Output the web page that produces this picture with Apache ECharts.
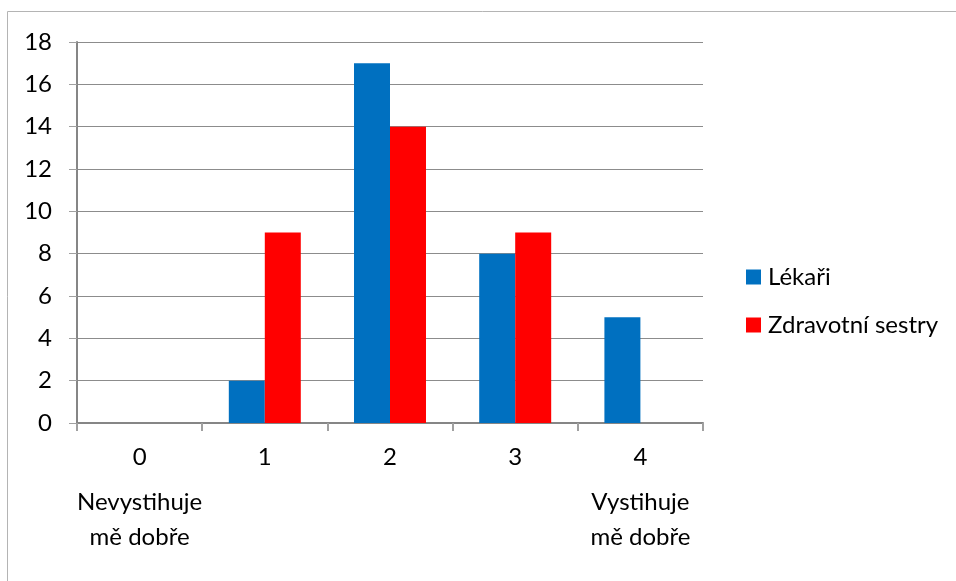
<!DOCTYPE html>
<html>
<head>
<meta charset="utf-8">
<script src="https://cdn.jsdelivr.net/npm/echarts@6/dist/echarts.min.js"></script>
<style>
  html, body { margin: 0; padding: 0; background: #fff; }
  #chart { width: 956px; height: 581px; }
</style>
</head>
<body>
<div id="chart"></div>
<script>
// Rating scale 0–4 and its end-point descriptions
const categories = ['0', '1', '2', '3', '4'];
const scaleNotes = { '0': 'Nevystihuje\nmě dobře', '4': 'Vystihuje\nmě dobře' };

// Number of respondents per rating
const seriesNames = ['Lékaři', 'Zdravotní sestry'];
const doctors = [0, 2, 17, 8, 5];
const nurses = [0, 9, 14, 9, 0];

const yTicks = { min: 0, max: 18, interval: 2 };

const FONT = 'Lato';
const FS = 24;
const chart = echarts.init(document.getElementById('chart'));

chart.setOption({
  animation: false,
  textStyle: { fontFamily: FONT },
  graphic: [{
    type: 'rect',
    shape: { x: 7.5, y: 11.5, width: 1200, height: 1200 },
    style: { fill: 'none', stroke: '#b4b4b4', lineWidth: 1 },
    silent: true
  }],
  grid: { left: 77, right: 253, top: 42, bottom: 158, containLabel: false },
  legend: {
    orient: 'vertical',
    left: 746,
    top: 265,
    padding: 0,
    itemWidth: 15,
    itemHeight: 15,
    itemGap: 24,
    icon: 'rect',
    textStyle: { fontFamily: FONT, fontSize: FS, lineHeight: 15, color: '#000', padding: [0, 0, 0, 2] },
    data: seriesNames
  },
  xAxis: {
    type: 'category',
    data: categories,
    axisLine: { lineStyle: { color: '#868686', width: 2 } },
    axisTick: { show: true, length: 8, lineStyle: { color: '#a0a0a0', width: 2 } },
    axisLabel: {
      margin: 6,
      interval: 0,
      formatter: function (v) {
        const note = scaleNotes[v];
        if (!note) return '{n|' + v + '}';
        return '{n|' + v + '}\n' + note.split('\n').map(s => '{t|' + s + '}').join('\n');
      },
      rich: {
        n: { fontFamily: FONT, fontSize: FS, color: '#000', lineHeight: 56 },
        t: { fontFamily: FONT, fontSize: FS, color: '#000', lineHeight: 35 }
      }
    }
  },
  yAxis: {
    type: 'value',
    min: yTicks.min,
    max: yTicks.max,
    interval: yTicks.interval,
    axisLine: { show: true, lineStyle: { color: '#868686', width: 2 } },
    axisTick: { show: true, length: 8, lineStyle: { color: '#a0a0a0', width: 1 } },
    splitLine: { lineStyle: { color: '#8c8c8c', width: 1 } },
    axisLabel: { margin: 25, fontFamily: FONT, fontSize: FS, color: '#000' }
  },
  series: [
    {
      name: seriesNames[0],
      type: 'bar',
      data: doctors,
      barGap: '0%',
      barCategoryGap: '42.5%',
      itemStyle: { color: '#0070C0' }
    },
    {
      name: seriesNames[1],
      type: 'bar',
      data: nurses,
      barGap: '0%',
      barCategoryGap: '42.5%',
      itemStyle: { color: '#FF0000' }
    }
  ]
});
</script>
</body>
</html>
